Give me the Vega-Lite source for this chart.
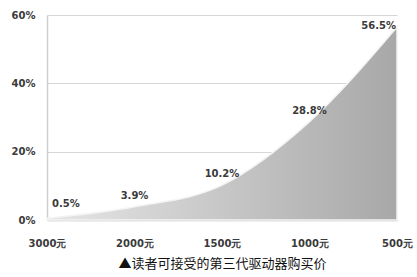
{
  "$schema": "https://vega.github.io/schema/vega-lite/v6.json",
  "autosize": "none",
  "width": 350,
  "height": 205,
  "padding": {"left": 47, "top": 15, "right": 20, "bottom": 57},
  "background": "white",
  "data": {"values": [
    {"price": "3000元", "pct": 0.5, "label": "0.5%"},
    {"price": "2000元", "pct": 3.9, "label": "3.9%"},
    {"price": "1500元", "pct": 10.2, "label": "10.2%"},
    {"price": "1000元", "pct": 28.8, "label": "28.8%"},
    {"price": "500元", "pct": 56.5, "label": "56.5%"}
  ]},
  "config": {
    "view": {"stroke": null},
    "axis": {"labelFont": "DejaVu Sans", "labelFontWeight": "bold", "labelColor": "#3a3a3a", "labelFontSize": 10}
  },
  "encoding": {
    "x": {"field": "price", "type": "ordinal", "sort": null,
      "scale": {"type": "point", "padding": 0},
      "axis": {"labelAngle": 0, "ticks": false, "labelPadding": 18, "domainColor": "#bdbdbd", "domainWidth": 1.5,
        "title": "▲读者可接受的第三代驱动器购买价", "titleFont": "Noto Sans CJK SC", "titleFontWeight": "normal", "titleFontSize": 13, "titleColor": "#111", "titlePadding": 9}},
    "y": {"field": "pct", "type": "quantitative",
      "scale": {"domain": [0, 60]},
      "axis": {"values": [0, 20, 40, 60], "labelExpr": "datum.value + '%'", "ticks": false, "labelPadding": 12,
        "domainColor": "#cfcfcf", "domainWidth": 1.5, "gridColor": "#d6d6d6", "gridWidth": 1.2, "title": null}}
  },
  "layer": [
    {"mark": {"type": "area", "interpolate": "monotone",
      "stroke": "#f4f4f4", "strokeWidth": 1.5,
      "color": {"gradient": "linear", "x1": 0, "y1": 0, "x2": 1, "y2": 0,
        "stops": [{"offset": 0, "color": "#e6e6e6"}, {"offset": 1, "color": "#a8a8a8"}]}}},
    {"transform": [{"filter": "datum.price == '3000元'"}],
      "mark": {"type": "text", "font": "DejaVu Sans", "fontWeight": "bold", "fontSize": 10, "color": "#3a3a3a", "align": "left", "dy": -14, "dx": 5},
      "encoding": {"text": {"field": "label"}}},
    {"transform": [{"filter": "datum.price != '500元' && datum.price != '3000元'"}],
      "mark": {"type": "text", "font": "DejaVu Sans", "fontWeight": "bold", "fontSize": 10, "color": "#3a3a3a", "dy": -11, "dx": 0},
      "encoding": {"text": {"field": "label"}}},
    {"transform": [{"filter": "datum.price == '500元'"}],
      "mark": {"type": "text", "font": "DejaVu Sans", "fontWeight": "bold", "fontSize": 10, "color": "#3a3a3a", "align": "right", "dy": -1, "dx": -1},
      "encoding": {"text": {"field": "label"}}}
  ]
}
